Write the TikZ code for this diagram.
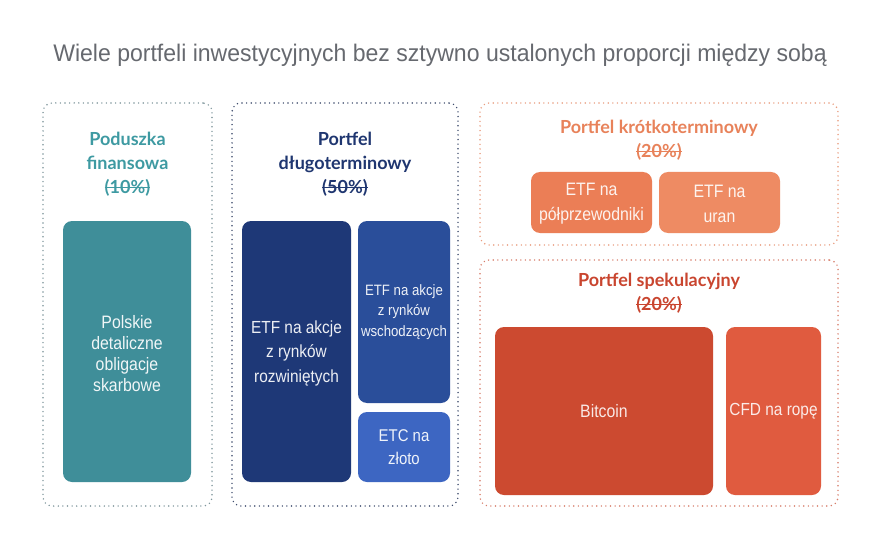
\documentclass[tikz,border=0pt]{standalone}
\usepackage{fontspec}
\setmainfont{Liberation Sans}
\newfontfamily\condfont[FakeStretch=0.88]{Liberation Sans}
\newfontfamily\titlefont[FakeStretch=0.96]{Liberation Sans}
\newfontfamily\headfont{Lato}
\newsavebox\strkbox
\newcommand\strk[1]{\sbox\strkbox{#1}\rlap{\raisebox{0.3em}{\rule{\wd\strkbox}{1pt}}}\usebox\strkbox}
\definecolor{titlegray}{HTML}{66696F}
\definecolor{tealh}{HTML}{3E9AA2}
\definecolor{tealbox}{HTML}{3F8E99}
\definecolor{tealdot}{HTML}{7F969C}
\definecolor{navyh}{HTML}{1F3670}
\definecolor{navydot}{HTML}{3F4D6E}
\definecolor{navyA}{HTML}{1E3877}
\definecolor{navyB}{HTML}{2A4E9A}
\definecolor{navyC}{HTML}{3D66C2}
\definecolor{orangeh}{HTML}{E8825A}
\definecolor{orangedot}{HTML}{E99C7E}
\definecolor{orangeA}{HTML}{EB7E56}
\definecolor{orangeB}{HTML}{EE8B63}
\definecolor{redh}{HTML}{C9452F}
\definecolor{reddot}{HTML}{D77D6A}
\definecolor{redA}{HTML}{CC4A30}
\definecolor{redB}{HTML}{E05B3F}
\tikzset{
  container/.style={rectangle, rounded corners=9pt, line width=1.6pt, line cap=round,
    dash pattern=on 0pt off 4.6pt, inner sep=0pt},
  cell/.style={rectangle, rounded corners=9pt, inner sep=0pt, align=center},
  headtxt/.style={align=center, font=\headfont\bfseries\fontsize{18}{24}\selectfont, inner sep=0pt},
  celltxt/.style={align=center, font=\condfont\fontsize{18}{24}\selectfont, inner sep=0pt},
  tighttxt/.style={align=center, font=\condfont\fontsize{18}{21}\selectfont, inner sep=0pt},
  navytxt/.style={align=center, font=\condfont\fontsize{17.5}{24.5}\selectfont, inner sep=0pt},
  smalltxt/.style={align=center, font=\condfont\fontsize{15}{20.5}\selectfont, inner sep=0pt}
}
\begin{document}
\begin{tikzpicture}[x=1pt,y=-1pt]
\useasboundingbox (0,0) rectangle (880,540);
\fill[white] (0,0) rectangle (880,540);
% title
\node[font=\titlefont\fontsize{24}{26}\selectfont, text=titlegray, inner sep=0pt] (title) at (440,55)
  {Wiele portfeli inwestycyjnych bez sztywno ustalonych proporcji między sobą};
% containers
\node[container, draw=tealdot, minimum width=169pt, minimum height=403pt] (c1) at (127.5,304.5) {};
\node[container, draw=navydot, minimum width=226pt, minimum height=403pt] (c2) at (345,304.5) {};
\node[container, draw=orangedot, minimum width=358pt, minimum height=142pt] (c3) at (659,174) {};
\node[container, draw=reddot, minimum width=358pt, minimum height=246pt] (c4) at (659,383) {};
% headings
\node[headtxt, text=tealh] (h1) at (127.5,164) {Poduszka\\finansowa\\\strk{(10\%)}};
\node[headtxt, text=navyh] (h2) at (345,164) {Portfel\\długoterminowy\\\strk{(50\%)}};
\node[headtxt, text=orangeh] (h3) at (659,140) {Portfel krótkoterminowy\\\strk{(20\%)}};
\node[headtxt, text=redh] (h4) at (659,293.5) {Portfel spekulacyjny\\\strk{(20\%)}};
% cells
\node[cell, fill=tealbox, minimum width=128pt, minimum height=261pt] (b1) at (127,351.5) {};
\node[tighttxt, text=white!92!tealbox] at (127,353.5) {Polskie\\detaliczne\\obligacje\\skarbowe};
\node[cell, fill=navyA, minimum width=109pt, minimum height=261pt] (b2) at (296.5,351.5) {};
\node[navytxt, text=white!92!navyA] at (296.5,353) {ETF na akcje\\z rynków\\rozwiniętych};
\node[cell, fill=navyB, minimum width=92pt, minimum height=182pt] (b3) at (404,312) {};
\node[smalltxt, text=white!92!navyB] at (b3) {ETF na akcje\\z rynków\\wschodzących};
\node[cell, fill=navyC, minimum width=92pt, minimum height=70pt] (b4) at (404,447) {};
\node[align=center, inner sep=0pt, font=\condfont\fontsize{17}{23}\selectfont, text=white!92!navyC] at (b4) {ETC na\\złoto};
\node[cell, fill=orangeA, minimum width=121pt, minimum height=61pt] (b5) at (591.5,202.5) {};
\node[align=center, inner sep=0pt, font=\condfont\fontsize{18}{25}\selectfont, text=white!90!orangeA] at (591.5,204) {ETF na\\półprzewodniki};
\node[cell, fill=orangeB, minimum width=121pt, minimum height=61pt] (b6) at (719.5,202.5) {};
\node[align=center, inner sep=0pt, font=\condfont\fontsize{18}{25}\selectfont, text=white!90!orangeB] at (719.5,204) {ETF na\\uran};
\node[cell, fill=redA, minimum width=218pt, minimum height=168pt] (b7) at (604,411) {};
\node[celltxt, text=white!88!redA] at (b7) {Bitcoin};
\node[cell, fill=redB, minimum width=95pt, minimum height=168pt] (b8) at (773.5,411) {};
\node[align=center, inner sep=0pt, font=\condfont\fontsize{17.5}{24}\selectfont, text=white!88!redB] at (b8) {CFD na ropę};
\end{tikzpicture}
\end{document}
